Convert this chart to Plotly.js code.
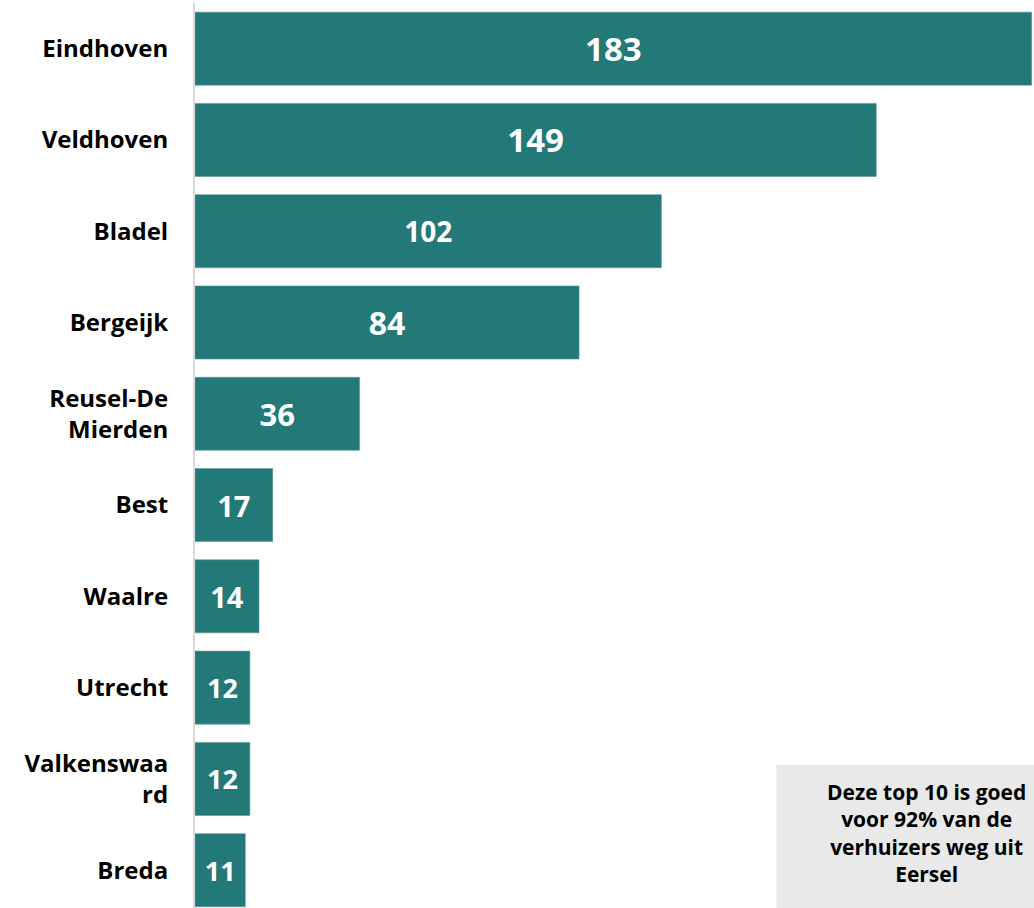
<!DOCTYPE html>
<html>
<head>
<meta charset="utf-8">
<script src="https://cdn.plot.ly/plotly-3.0.1.min.js"></script>
<style>html,body{margin:0;padding:0;background:#fff;}#chart{width:1034px;height:908px;}</style>
</head>
<body>
<div id="chart"></div>
<script>
const categories = ["Eindhoven", "Veldhoven", "Bladel", "Bergeijk", "Reusel-De<br>Mierden", "Best", "Waalre", "Utrecht", "Valkenswaa<br>rd", "Breda"];
const values = [183, 149, 102, 84, 36, 17, 14, 12, 12, 11];
const labelSizes = [33, 33, 28, 32, 31, 29, 29, 27, 27, 27];
const noteText = "Deze top 10 is goed<br>voor 92% van de<br>verhuizers weg uit<br>Eersel";

const trace = {
  type: "bar",
  orientation: "h",
  x: values,
  y: categories,
  text: values.map(String),
  textposition: "inside",
  insidetextanchor: "middle",
  constraintext: "none",
  textfont: {color: "#ffffff", size: labelSizes, family: "Open Sans, sans-serif", weight: 700},
  marker: {color: "#237878", line: {color: "#5a9a9a", width: 0.6}},
  hoverinfo: "none",
  cliponaxis: false
};

const layout = {
  width: 1034,
  height: 908,
  margin: {l: 195, r: 0, t: 3, b: 0},
  paper_bgcolor: "#ffffff",
  plot_bgcolor: "#ffffff",
  showlegend: false,
  bargap: 0.2,
  xaxis: {range: [0, 183.5], showgrid: false, zeroline: false, showticklabels: false, showline: false, fixedrange: true},
  yaxis: {
    type: "category",
    range: [9.414, -0.5],
    showgrid: false,
    zeroline: false,
    showline: true,
    linecolor: "#d9d9d9",
    linewidth: 2,
    ticks: "",
    ticklabelstandoff: 20,
    tickfont: {family: "Open Sans, sans-serif", size: 24, color: "#000000", weight: 700}
  },
  shapes: [{
    type: "rect", xref: "paper", yref: "paper",
    x0: 0.693, x1: 1.2, y0: -0.02, y1: 0.158,
    fillcolor: "#e9e9e9", line: {width: 0}, layer: "below"
  }],
  annotations: [{
    xref: "paper", yref: "paper", x: 0.872, y: 0.083,
    xanchor: "center", yanchor: "middle",
    text: noteText, showarrow: false, align: "center",
    font: {family: "Open Sans, sans-serif", size: 21, color: "#000000", weight: 700}
  }]
};

Plotly.newPlot("chart", [trace], layout, {displayModeBar: false, staticPlot: true});
</script>
</body>
</html>
